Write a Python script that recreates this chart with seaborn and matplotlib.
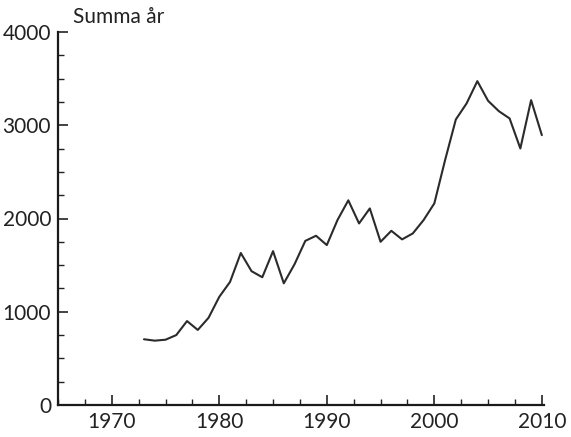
import matplotlib
matplotlib.use("Agg")
import matplotlib.pyplot as plt
from matplotlib.ticker import MultipleLocator
import seaborn as sns
import pandas as pd

# årsvärden avlästa från originalbilden
years = list(range(1973, 2011))
summa = [705, 690, 700, 750, 900, 805, 935, 1160, 1320, 1630, 1435, 1370,
         1650, 1305, 1510, 1760, 1815, 1715, 1985, 2195, 1947, 2108, 1750,
         1868, 1776, 1840, 1983, 2162, 2626, 3062, 3234, 3473, 3262, 3151,
         3073, 2751, 3269, 2894]
x_ticks = [1970, 1980, 1990, 2000, 2010]
y_ticks = [0, 1000, 2000, 3000, 4000]

sns.set_style("ticks")
plt.rcParams['font.family'] = ['Lato', 'DejaVu Sans']

df = pd.DataFrame({'year': years, 'summa': summa})

fig = plt.figure(figsize=(5.71, 4.37), dpi=100)
ax = fig.add_axes([58 / 571, 1 - 405 / 437, (544 - 58) / 571, (405 - 32) / 437])

sns.lineplot(data=df, x='year', y='summa', ax=ax, color='#2b2b2b', linewidth=1.5, clip_on=False)

ax.set_xlim(1965, 2010.2)
ax.set_ylim(0, 4000)
ax.set_xticks(x_ticks)
ax.set_yticks(y_ticks)
ax.xaxis.set_minor_locator(MultipleLocator(2.5))
ax.yaxis.set_minor_locator(MultipleLocator(250))
ax.tick_params(which='major', direction='in', length=7, width=1.2, labelsize=15,
               colors='#222222', pad=5)
ax.tick_params(which='minor', direction='in', length=4, width=1.0, colors='#222222')
ax.set_xlabel('')
ax.set_ylabel('')

sns.despine(ax=ax)
for s in ['left', 'bottom']:
    ax.spines[s].set_linewidth(1.6)
    ax.spines[s].set_color('#1a1a1a')

fig.text(73 / 571, 1 - 17 / 437, 'Summa år', fontsize=15, color='#222222', va='center', ha='left')

fig.savefig('out.png', dpi=100)
